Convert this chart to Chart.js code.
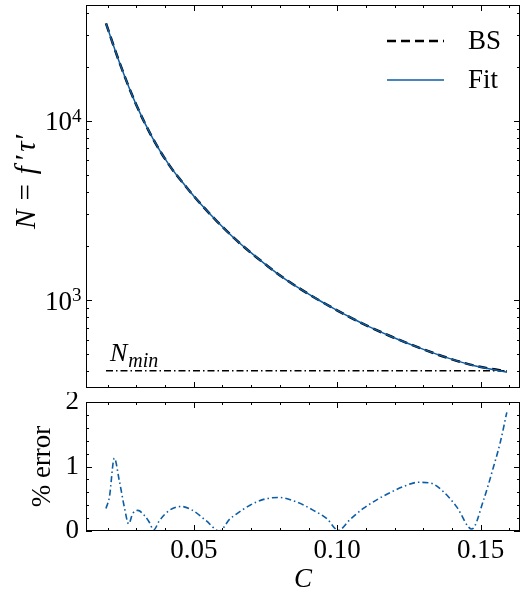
<!DOCTYPE html>
<html>
<head>
<meta charset="utf-8">
<script src="https://cdn.jsdelivr.net/npm/chart.js@4.4.1/dist/chart.umd.min.js"></script>
<style>
  html, body { margin: 0; padding: 0; background: #fff; }
  #wrap { position: relative; width: 522px; height: 592px; }
  canvas { position: absolute; left: 0; }
  #top { top: 0; }
  #bottom { top: 392px; }
</style>
</head>
<body>
<div id="wrap">
  <canvas id="top" width="522" height="392"></canvas>
  <canvas id="bottom" width="522" height="200"></canvas>
</div>
<script>
// C values and N = f'tau'
const cValues = [0.0194, 0.0240, 0.0299, 0.0357, 0.0415, 0.0473, 0.0525, 0.0580, 0.0638, 0.0696, 0.0754,
  0.0812, 0.0871, 0.0929, 0.0987, 0.1045, 0.1103, 0.1196, 0.1289, 0.1382, 0.1475, 0.1591];
const bsValues = [34900, 21340, 12310, 7973, 5633, 4284, 3420, 2758, 2234, 1853, 1562,
  1330, 1153, 1013, 898, 801, 720, 618, 539, 477, 432, 399];
const fitValues = [34800, 21320, 12300, 7975, 5630, 4286, 3421, 2759, 2233, 1854, 1561,
  1329, 1153, 1013, 898, 801, 720, 618, 539, 477, 431, 396];
const nMin = 403;
const nMinRange = [0.0194, 0.1591];

// % error, lower panel
const errC = [0.0194, 0.0206, 0.0223, 0.0240, 0.0258, 0.0273, 0.0287, 0.0305, 0.0328, 0.0345, 0.0360,
  0.0380, 0.0415, 0.0456, 0.0496, 0.0543, 0.0589, 0.0626, 0.0641, 0.0696, 0.0743, 0.0795,
  0.0859, 0.0917, 0.0964, 0.1004, 0.1045, 0.1091, 0.1144, 0.1173, 0.1231, 0.1283, 0.1324,
  0.1370, 0.1417, 0.1469, 0.1510, 0.1545, 0.1568, 0.1591];
const errPct = [0.35, 0.53, 1.13, 0.79, 0.37, 0.11, 0.27, 0.32, 0.24, 0.135, 0.015,
  0.16, 0.32, 0.38, 0.32, 0.16, 0.0, 0.19, 0.24, 0.40, 0.49, 0.52,
  0.45, 0.32, 0.19, 0.01, 0.18, 0.35, 0.50, 0.57, 0.69, 0.755, 0.745,
  0.61, 0.37, 0.03, 0.48, 1.0, 1.37, 1.84];

// ticks
const xMajor = [0.05, 0.10, 0.15];
const xMinor = [0.02, 0.03, 0.04, 0.06, 0.07, 0.08, 0.09, 0.11, 0.12, 0.13, 0.14, 0.16];
const topYMajor = [1000, 10000];
const topYMinor = [400, 500, 600, 700, 800, 900, 2000, 3000, 4000, 5000, 6000, 7000, 8000, 9000, 20000, 30000, 40000];
const errMajor = [0, 1, 2];
const errMinor = [0.2, 0.4, 0.6, 0.8, 1.2, 1.4, 1.6, 1.8];

const xMin = 0.01243, xMax = 0.1637;
const nLow = 323, nHigh = 44200;

const blue = "#0C5DA5";
const serif = '"Liberation Serif"';

function pts(xs, ys) {
  return xs.map(function (x, i) { return { x: x, y: ys[i] }; });
}

// frame on four sides plus inward ticks
const frameTicks = {
  id: "frameTicks",
  afterDraw(chart, args, opts) {
    const ctx = chart.ctx;
    const a = chart.chartArea;
    const xs = chart.scales.x, ys = chart.scales.y;
    ctx.save();
    ctx.strokeStyle = "#000";
    ctx.lineWidth = 1;
    ctx.strokeRect(a.left + 0.5, a.top + 0.5, a.right - a.left - 1, a.bottom - a.top - 1);
    function xt(v, len) {
      const px = Math.round(xs.getPixelForValue(v)) + 0.5;
      ctx.moveTo(px, a.bottom); ctx.lineTo(px, a.bottom - len);
      ctx.moveTo(px, a.top); ctx.lineTo(px, a.top + len);
    }
    function yt(v, len) {
      const py = Math.round(ys.getPixelForValue(v)) + 0.5;
      ctx.moveTo(a.left, py); ctx.lineTo(a.left + len, py);
      ctx.moveTo(a.right, py); ctx.lineTo(a.right - len, py);
    }
    ctx.beginPath();
    opts.xMajor.forEach(function (v) { xt(v, 6); });
    opts.xMinor.forEach(function (v) { xt(v, 3); });
    opts.yMajor.forEach(function (v) { yt(v, 6); });
    opts.yMinor.forEach(function (v) { yt(v, 3); });
    ctx.stroke();
    ctx.restore();
  }
};

// draws [text, font, extra gap] pieces centred on x
function drawParts(ctx, parts, x, y) {
  let w = 0;
  parts.forEach(function (p) { ctx.font = p[1]; w += ctx.measureText(p[0]).width + (p[2] || 0); });
  let cx = x - w / 2;
  parts.forEach(function (p) {
    ctx.font = p[1];
    ctx.fillText(p[0], cx, y);
    cx += ctx.measureText(p[0]).width + (p[2] || 0);
  });
}

// texts of the upper panel: 10^k labels, y title, N_min and the legend
const topText = {
  id: "topText",
  afterDraw(chart) {
    const ctx = chart.ctx;
    const ys = chart.scales.y;
    ctx.save();
    ctx.fillStyle = "#000";
    ctx.textBaseline = "alphabetic";
    topYMajor.forEach(function (v) {
      const py = ys.getPixelForValue(v);
      ctx.font = "27px " + serif;
      ctx.textAlign = "right";
      ctx.fillText("10", 72, py + 9.5);
      ctx.font = "19px " + serif;
      ctx.textAlign = "left";
      ctx.fillText(String(Math.round(Math.log10(v))), 72, py + 1);
    });

    // y title
    ctx.save();
    ctx.translate(27, 181);
    ctx.rotate(-Math.PI / 2);
    ctx.textAlign = "left";
    ctx.textBaseline = "middle";
    const it = "italic 29px " + serif, up = "29px " + serif;
    drawParts(ctx, [["N", it, 9], ["=", up, 10], ["f", it, 6], ["\u2032", up, 2], ["\u03C4", it, 2], ["\u2032", up, 0]], 0, 0);
    ctx.restore();

    // N_min label
    const ny = ys.getPixelForValue(nMin);
    ctx.textAlign = "left";
    ctx.textBaseline = "alphabetic";
    ctx.font = "italic 26px " + serif;
    ctx.fillText("N", 110, ny - 10);
    const wN = ctx.measureText("N").width;
    ctx.font = "italic 20px " + serif;
    ctx.fillText("min", 110 + wN + 1, ny - 4);

    // legend
    ["BS", "Fit"].forEach(function (name, i) {
      const ds = chart.data.datasets.find(function (d) { return d.label === name; });
      const ly = 41 + i * 39;
      ctx.beginPath();
      ctx.setLineDash(ds.borderDash || []);
      ctx.lineWidth = ds.borderWidth;
      ctx.strokeStyle = ds.borderColor;
      ctx.moveTo(387, ly);
      ctx.lineTo(444, ly);
      ctx.stroke();
      ctx.setLineDash([]);
      ctx.font = "27px " + serif;
      ctx.textBaseline = "middle";
      ctx.fillText(name, 468, ly + 1);
    });
    ctx.restore();
  }
};

new Chart(document.getElementById("top"), {
  type: "line",
  data: {
    datasets: [
      {
        label: "BS",
        data: pts(cValues, bsValues),
        borderColor: "#000",
        borderWidth: 2.5,
        borderDash: [9, 5],
        pointRadius: 0,
        cubicInterpolationMode: "monotone",
        order: 2,
      },
      {
        label: "Fit",
        data: pts(cValues, fitValues),
        borderColor: blue,
        borderWidth: 1.5,
        pointRadius: 0,
        cubicInterpolationMode: "monotone",
        order: 1,
      },
      {
        label: "Nmin",
        data: pts(nMinRange, [nMin, nMin]),
        borderColor: "#000",
        borderWidth: 1.3,
        borderDash: [7, 3, 1.5, 3],
        pointRadius: 0,
        order: 3,
      },
    ],
  },
  options: {
    responsive: false,
    animation: false,
    layout: { padding: { left: 0, right: 2, top: 5, bottom: 4 } },
    plugins: {
      legend: { display: false },
      tooltip: { enabled: false },
      frameTicks: { xMajor: xMajor, xMinor: xMinor, yMajor: topYMajor, yMinor: topYMinor },
    },
    scales: {
      x: { type: "linear", min: xMin, max: xMax, display: false },
      y: {
        type: "logarithmic",
        min: nLow,
        max: nHigh,
        grid: { display: false, drawTicks: false },
        border: { display: false },
        ticks: { display: false },
        afterFit: function (s) { s.width = 86; s.paddingTop = 0; s.paddingBottom = 0; },
      },
    },
  },
  plugins: [frameTicks, topText],
});

new Chart(document.getElementById("bottom"), {
  type: "line",
  data: {
    datasets: [
      {
        label: "% error",
        data: pts(errC, errPct),
        borderColor: blue,
        borderWidth: 1.6,
        borderDash: [6, 3, 1.5, 3],
        pointRadius: 0,
        cubicInterpolationMode: "monotone",
      },
    ],
  },
  options: {
    responsive: false,
    animation: false,
    layout: { padding: { left: 0, right: 2, top: 10, bottom: 0 } },
    plugins: {
      legend: { display: false },
      tooltip: { enabled: false },
      frameTicks: { xMajor: xMajor, xMinor: xMinor, yMajor: errMajor, yMinor: errMinor },
    },
    scales: {
      x: {
        type: "linear",
        min: xMin,
        max: xMax,
        grid: { display: false, drawTicks: false },
        border: { display: false },
        afterBuildTicks: function (s) { s.ticks = xMajor.map(function (v) { return { value: v }; }); },
        afterFit: function (s) { s.height = 61; s.paddingLeft = 0; s.paddingRight = 0; },
        ticks: {
          font: { family: "Liberation Serif", size: 27 },
          color: "#000",
          padding: 4,
          maxRotation: 0,
          autoSkip: false,
          callback: function (v) { return v.toFixed(2); },
        },
        title: {
          display: true,
          text: "C",
          color: "#000",
          font: { family: "Liberation Serif", size: 27, style: "italic", lineHeight: 1 },
          padding: { top: 0, bottom: -1 },
        },
      },
      y: {
        min: 0,
        max: 2,
        grid: { display: false, drawTicks: false },
        border: { display: false },
        afterBuildTicks: function (s) { s.ticks = errMajor.map(function (v) { return { value: v }; }); },
        afterFit: function (s) { s.width = 86; s.paddingTop = 0; s.paddingBottom = 0; },
        ticks: {
          font: { family: "Liberation Serif", size: 27 },
          color: "#000",
          padding: 7,
          callback: function (v) { return String(v); },
        },
        title: {
          display: true,
          text: "% error",
          color: "#000",
          font: { family: "Liberation Serif", size: 27 },
          padding: { top: 27, bottom: 0 },
        },
      },
    },
  },
  plugins: [frameTicks],
});
</script>
</body>
</html>
